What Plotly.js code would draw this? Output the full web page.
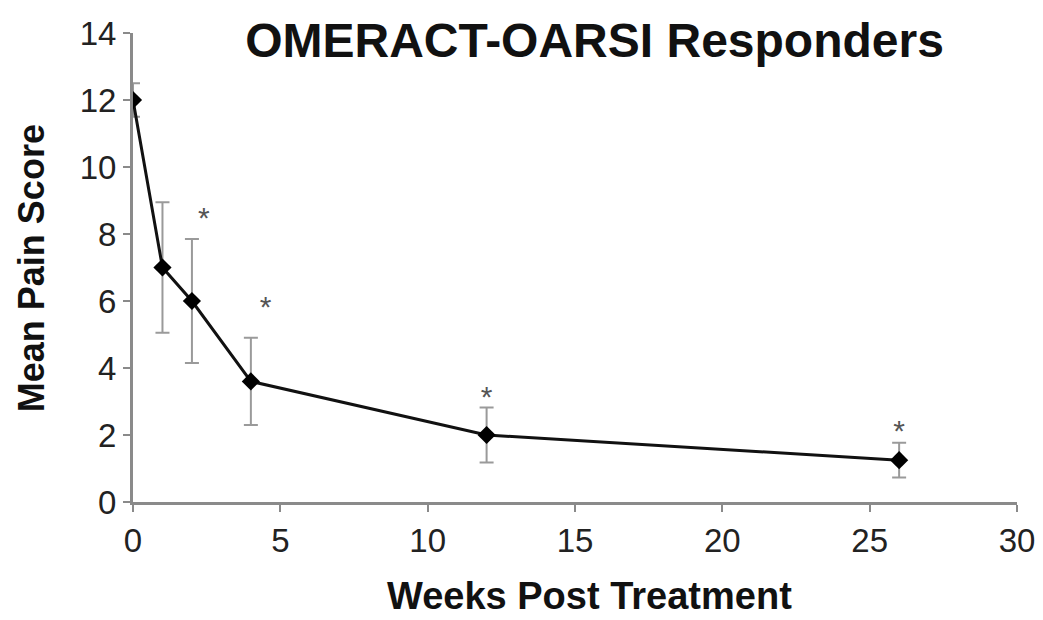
<!DOCTYPE html>
<html>
<head>
<meta charset="utf-8">
<script src="https://cdn.plot.ly/plotly-3.0.1.min.js"></script>
<style>html,body{margin:0;padding:0;background:#fff;}#chart{width:1043px;height:620px;}</style>
</head>
<body>
<div id="chart"></div>
<script>
const weeks = [0, 1, 2, 4, 12, 26];
const meanPain = [12, 7, 6, 3.6, 2, 1.25];
const errorPain = [0.5, 1.95, 1.85, 1.3, 0.82, 0.52];
const starWeeks = [2.4, 4.5, 12, 26];
const starValues = [8.4, 5.75, 3.05, 2.05];
const starLabels = ['*', '*', '*', '*'];
const xTicks = [0, 5, 10, 15, 20, 25, 30];
const yTicks = [0, 2, 4, 6, 8, 10, 12, 14];

const font = 'Liberation Sans, Arial, sans-serif';

const traces = [
  {
    x: weeks, y: meanPain, type: 'scatter', mode: 'lines+markers',
    line: {color: '#111', width: 3},
    marker: {symbol: 'diamond', size: 14, color: '#000'},
    error_y: {type: 'data', array: errorPain, visible: true, color: '#9a9a9a', thickness: 2, width: 7},
    hoverinfo: 'none'
  },
  {
    x: starWeeks, y: starValues, type: 'scatter', mode: 'text',
    text: starLabels, textposition: 'middle center',
    textfont: {family: font, size: 30, color: '#555'},
    hoverinfo: 'none'
  }
];

const layout = {
  width: 1043, height: 620,
  margin: {l: 133, r: 26, t: 33, b: 118},
  paper_bgcolor: '#fff', plot_bgcolor: '#fff',
  showlegend: false,
  title: {
    text: '<b>OMERACT-OARSI Responders</b>',
    font: {family: font, size: 48, color: '#111'},
    x: 0.57, xanchor: 'center', y: 0.935, yanchor: 'middle', yref: 'container'
  },
  xaxis: {
    range: [0, 30], tickvals: xTicks, ticktext: xTicks.map(String),
    showgrid: false, zeroline: false,
    showline: true, linecolor: '#8a8a8a', linewidth: 3,
    ticks: 'outside', ticklen: 7, tickwidth: 2, tickcolor: '#8a8a8a',
    tickfont: {family: font, size: 33, color: '#222'}
  },
  yaxis: {
    range: [0, 14], tickvals: yTicks, ticktext: yTicks.map(String),
    showgrid: false, zeroline: false,
    showline: true, linecolor: '#8a8a8a', linewidth: 3,
    ticks: 'outside', ticklen: 7, tickwidth: 2, tickcolor: '#8a8a8a',
    tickfont: {family: font, size: 33, color: '#222'}
  },
  annotations: [
    {
      text: '<b>Weeks Post Treatment</b>', xref: 'paper', yref: 'paper',
      x: 0.516, y: -0.201, xanchor: 'center', yanchor: 'middle', showarrow: false,
      font: {family: font, size: 38, color: '#111'}
    },
    {
      text: '<b>Mean Pain Score</b>', xref: 'paper', yref: 'paper', textangle: -90,
      x: -0.114, y: 0.499, xanchor: 'center', yanchor: 'middle', showarrow: false,
      font: {family: font, size: 36, color: '#111'}
    }
  ]
};

Plotly.newPlot('chart', traces, layout, {staticPlot: true, displayModeBar: false});
</script>
</body>
</html>
